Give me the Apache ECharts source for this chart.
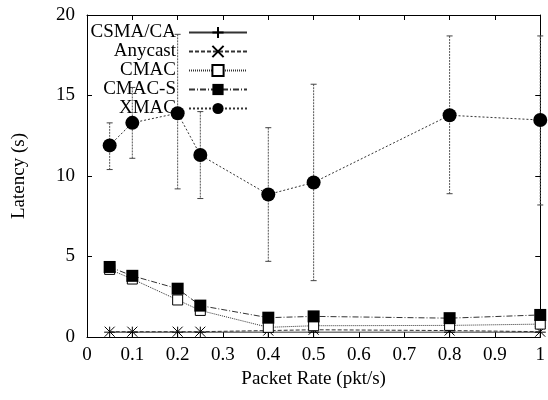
<!DOCTYPE html>
<html>
<head>
<meta charset="utf-8">
<script src="https://cdn.jsdelivr.net/npm/echarts@6/dist/echarts.min.js"></script>
<style>
  html, body { margin: 0; padding: 0; background: #fff; }
  #chart { width: 548px; height: 400px; }
</style>
</head>
<body>
<div id="chart"></div>
<script>
// Packet rates (pkt/s)
const rates = [0.05, 0.1, 0.2, 0.25, 0.4, 0.5, 0.8, 1.0];

// Mean latency (s) per MAC protocol
const csmaca  = [0.30, 0.30, 0.30, 0.30, 0.30, 0.30, 0.30, 0.30];
const anycast = [0.33, 0.33, 0.33, 0.33, 0.40, 0.45, 0.40, 0.33];
const cmac    = [4.20, 3.60, 2.30, 1.65, 0.60, 0.70, 0.72, 0.80];
const cmacS   = [4.35, 3.80, 3.00, 1.95, 1.20, 1.28, 1.17, 1.37];
const xmac    = [11.9, 13.3, 13.9, 11.3, 8.85, 9.6, 13.77, 13.48];

// Error bar bounds (low / high)
const cmacLo  = [4.00, 3.40, 2.10, 1.55, 0.55, 0.62, 0.65, 0.72];
const cmacHi  = [4.40, 3.80, 2.50, 1.75, 0.65, 0.78, 0.80, 0.88];
const cmacSLo = [4.10, 3.55, 2.70, 1.80, 1.10, 1.18, 1.08, 1.28];
const cmacSHi = [4.60, 4.05, 3.30, 2.10, 1.30, 1.38, 1.26, 1.46];
const xmacLo  = [10.4, 11.1, 9.2, 8.6, 4.7, 3.5, 8.9, 8.2];
const xmacHi  = [13.3, 15.5, 18.8, 14.0, 13.0, 15.7, 18.7, 18.7];

// Axis ticks
const xTicks = [0, 0.1, 0.2, 0.3, 0.4, 0.5, 0.6, 0.7, 0.8, 0.9, 1];
const yTicks = [0, 5, 10, 15, 20];

const FONT = 'Liberation Serif';
const FS = 19;
const pair = (ys) => rates.map((x, i) => [x, ys[i]]);
const triple = (lo, hi) => rates.map((x, i) => [x, lo[i], hi[i]]);

function errorBars(lo, hi, dash, z) {
  return {
    type: 'custom',
    z: z,
    silent: true,
    clip: false,
    data: triple(lo, hi),
    encode: { x: 0, y: [1, 2] },
    renderItem: function (params, api) {
      const x = api.value(0);
      const top = api.coord([x, api.value(2)]);
      const bot = api.coord([x, api.value(1)]);
      const c = 3;
      const style = { stroke: '#555', lineWidth: 1, lineDash: dash };
      return {
        type: 'group',
        children: [
          { type: 'line', shape: { x1: top[0], y1: top[1], x2: bot[0], y2: bot[1] }, style: style },
          { type: 'line', shape: { x1: top[0] - c, y1: top[1], x2: top[0] + c, y2: top[1] }, style: { stroke: '#444', lineWidth: 1 } },
          { type: 'line', shape: { x1: bot[0] - c, y1: bot[1], x2: bot[0] + c, y2: bot[1] }, style: { stroke: '#444', lineWidth: 1 } }
        ]
      };
    }
  };
}

const PLUS = 'path://M0,5L10,5M5,0L5,10';
const CROSS = 'path://M0,0L10,10M10,0L0,10';

const seriesDefs = [
  { name: 'CSMA/CA', data: csmaca, symbol: PLUS, size: 11, dash: 'solid',
    item: { color: 'none', borderColor: '#000', borderWidth: 1 } },
  { name: 'Anycast', data: anycast, symbol: CROSS, size: 10, dash: [4, 2],
    item: { color: 'none', borderColor: '#000', borderWidth: 1 } },
  { name: 'CMAC', data: cmac, symbol: 'rect', size: 10, dash: [1, 1],
    item: { color: '#fff', borderColor: '#000', borderWidth: 1 } },
  { name: 'CMAC-S', data: cmacS, symbol: 'rect', size: 12, dash: [6, 2, 1, 2],
    item: { color: '#000', borderColor: '#000', borderWidth: 0 } },
  { name: 'XMAC', data: xmac, symbol: 'circle', size: 14, dash: [2, 2],
    item: { color: '#000', borderColor: '#000', borderWidth: 0 } }
];

const legendRows = [31, 50, 69, 88, 107];
const legends = seriesDefs.map((s, i) => ({
  data: [s.name],
  orient: 'horizontal',
  align: 'right',
  right: 300,
  top: legendRows[i] - 8,
  padding: 0,
  itemWidth: 58,
  itemHeight: 14,
  selectedMode: false,
  textStyle: { fontFamily: FONT, fontSize: FS, color: '#000', padding: [0, 8, 0, 0] }
}));

const lineSeries = seriesDefs.map((s, i) => ({
  type: 'line',
  name: s.name,
  data: pair(s.data),
  symbol: s.symbol,
  symbolSize: s.size,
  showAllSymbol: true,
  clip: false,
  z: 3 + i,
  lineStyle: { color: '#333', width: 1, type: s.dash },
  itemStyle: s.item,
  emphasis: { disabled: true }
}));

const axisCommonX = {
  type: 'value', min: 0, max: 1, interval: 0.1,
  splitLine: { show: false },
  axisLine: { show: true, onZero: false, lineStyle: { color: '#000', width: 1 } },
  axisTick: { show: true, inside: true, length: 5, lineStyle: { color: '#000' } }
};
const axisCommonY = {
  type: 'value', min: 0, max: 20, interval: 5,
  splitLine: { show: false },
  axisLine: { show: true, onZero: false, lineStyle: { color: '#000', width: 1 } },
  axisTick: { show: true, inside: true, length: 5, lineStyle: { color: '#000' } }
};

const chart = echarts.init(document.getElementById('chart'), null, { renderer: 'canvas' });
chart.setOption({
  animation: false,
  backgroundColor: '#fff',
  textStyle: { fontFamily: FONT },
  grid: { left: 87, right: 4, top: 15, bottom: 63 },
  legend: legends,
  xAxis: [
    Object.assign({}, axisCommonX, {
      position: 'bottom',
      name: 'Packet Rate (pkt/s)',
      nameLocation: 'middle',
      nameGap: 33,
      nameTextStyle: { fontFamily: FONT, fontSize: FS, color: '#000' },
      axisLabel: {
        margin: 9, fontFamily: FONT, fontSize: FS, color: '#000',
        formatter: (v) => {
          const t = xTicks.find((k) => Math.abs(k - v) < 1e-6);
          return t === undefined ? '' : String(t);
        }
      }
    }),
    Object.assign({}, axisCommonX, { position: 'top', axisLabel: { show: false } })
  ],
  yAxis: [
    Object.assign({}, axisCommonY, {
      position: 'left',
      name: 'Latency (s)',
      nameLocation: 'middle',
      nameGap: 58,
      nameTextStyle: { fontFamily: FONT, fontSize: FS, color: '#000' },
      axisLabel: {
        margin: 12, fontFamily: FONT, fontSize: FS, color: '#000',
        formatter: (v) => (yTicks.includes(v) ? String(v) : '')
      }
    }),
    Object.assign({}, axisCommonY, { position: 'right', axisLabel: { show: false } })
  ],
  series: [
    errorBars(cmacLo, cmacHi, [1, 1], 1),
    errorBars(cmacSLo, cmacSHi, [6, 2, 1, 2], 1),
    errorBars(xmacLo, xmacHi, [2, 1], 1)
  ].concat(lineSeries)
});
</script>
</body>
</html>
